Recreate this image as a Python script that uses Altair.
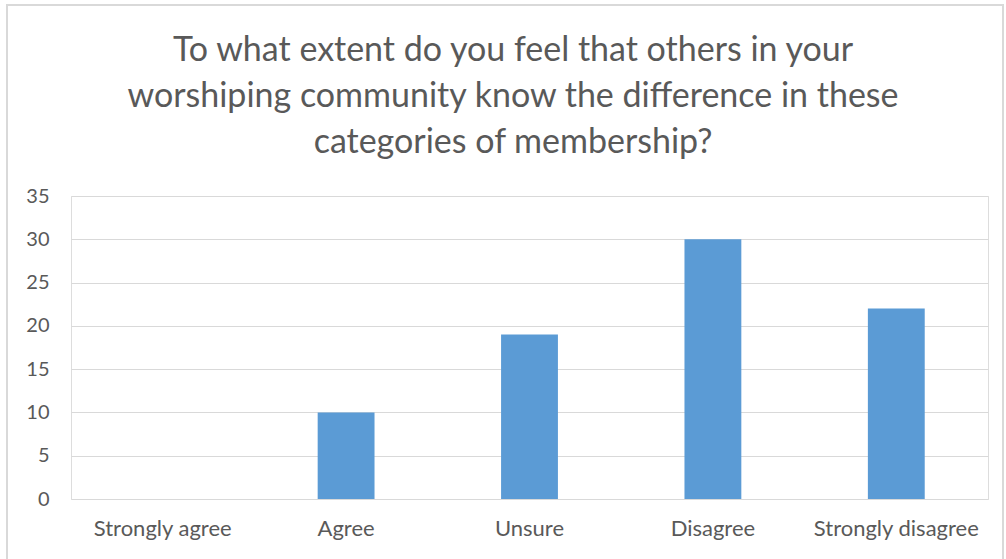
import altair as alt
import pandas as pd

categories = ["Strongly agree", "Agree", "Unsure", "Disagree", "Strongly disagree"]
values = [0, 10, 19, 30, 22]
title_lines = ["To what extent do you feel that others in your",
               "worshiping community know the difference in these",
               "categories of membership?"]

df = pd.DataFrame({"category": categories, "value": values})

FONT = "Lato"
GRAY = "#595959"

bars = alt.Chart(df).mark_bar(color="#5B9BD5").encode(
    x=alt.X("category:N", sort=categories,
            scale=alt.Scale(paddingInner=0.69, paddingOuter=0.345),
            axis=alt.Axis(title=None, labelAngle=0, labelFont=FONT, labelFontSize=22,
                          labelColor=GRAY, labelPadding=19, ticks=False, domain=False,
                          grid=False)),
    y=alt.Y("value:Q", scale=alt.Scale(domain=[0, 35], nice=False),
            axis=alt.Axis(title=None, values=list(range(0, 36, 5)), labelFont=FONT,
                          labelFontSize=20, labelColor=GRAY, labelPadding=22,
                          ticks=False, domain=False, gridColor="#D9D9D9", gridWidth=1.2)),
)

frame = alt.Chart(df).mark_rect(fill=None, stroke="#D9D9D9", strokeWidth=1.5, clip=False).encode(
    x=alt.value(-64), x2=alt.value(932), y=alt.value(-191), y2=alt.value(370)
)

title_layers = []
for i, txt in enumerate(title_lines):
    title_layers.append(
        alt.Chart(pd.DataFrame({"t": [txt]})).mark_text(
            font=FONT, fontSize=34, color=GRAY, align="center", baseline="alphabetic"
        ).encode(text="t:N", x=alt.value(442), y=alt.value(-135 + 46 * i))
    )

chart = alt.layer(frame, bars, *title_layers).properties(
    width=917, height=303,
    autosize=alt.AutoSizeParams(type="none"),
    padding={"left": 71, "top": 196, "right": 18, "bottom": 60},
).configure_view(stroke=None).configure(background="white")

chart.save("out.html", embed_options={"renderer": "svg", "actions": False})
